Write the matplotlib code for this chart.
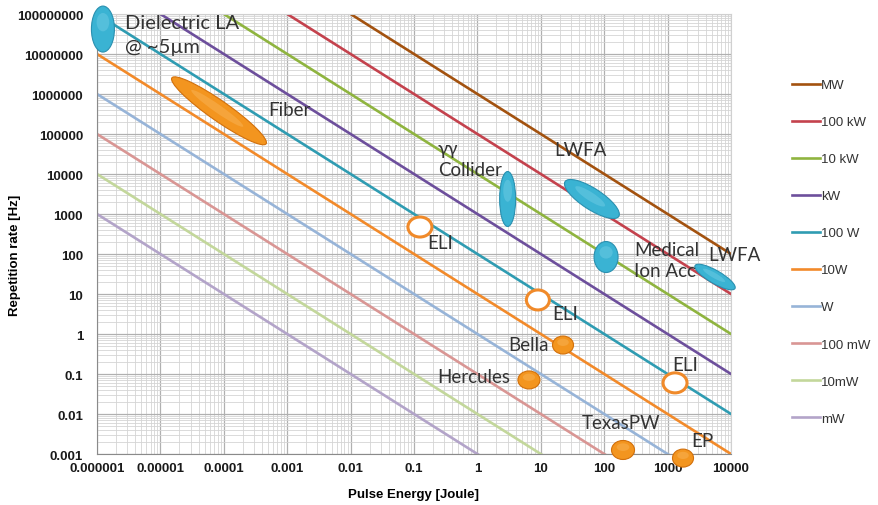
import numpy as np
import matplotlib.pyplot as plt
from matplotlib.patches import Ellipse
from matplotlib.transforms import ScaledTranslation
from matplotlib.ticker import LogLocator, NullFormatter

# constant power lines
power_labels = ['MW', '100 kW', '10 kW', 'kW', '100 W', '10W', 'W', '100 mW', '10mW', 'mW']
power_watts = [1e6, 1e5, 1e4, 1e3, 1e2, 1e1, 1e0, 1e-1, 1e-2, 1e-3]
power_colors = ['#a3520f', '#c4424d', '#8fb43f', '#6d4f9c', '#2f9cb2',
                '#f28a2a', '#97b4d8', '#d99694', '#c3d79b', '#b3a4c9']

# machines / facilities
blob_names = ['Dielectric LA\n@ ~5\u00b5m', 'Fiber', '\u03b3\u03b3\nCollider', 'LWFA',
              'Medical\nIon Acc', 'LWFA', 'ELI', 'ELI', 'ELI',
              'Bella', 'Hercules', 'TexasPW', 'EP']
blob_energy = [1.24e-6, 8.4e-5, 3.0, 64, 107, 5600, 0.124, 9.0, 1310,
               22.4, 6.5, 198, 1750]
blob_rate = [4.2e7, 3.8e5, 2370, 2370, 84, 26.6, 473, 7.1, 0.06,
             0.53, 0.071, 0.00126, 0.00079]
blob_kind = ['blue', 'orange', 'blue', 'blue', 'blue', 'blue', 'open', 'open', 'open',
             'orange', 'orange', 'orange', 'orange']

x_ticks = [1e-6, 1e-5, 1e-4, 1e-3, 1e-2, 1e-1, 1, 10, 100, 1000, 10000]
x_tick_labels = ['0.000001', '0.00001', '0.0001', '0.001', '0.01', '0.1',
                 '1', '10', '100', '1000', '10000']
y_ticks = [1e-3, 1e-2, 1e-1, 1, 10, 100, 1e3, 1e4, 1e5, 1e6, 1e7, 1e8]
y_tick_labels = ['0.001', '0.01', '0.1', '1', '10', '100', '1000', '10000',
                 '100000', '1000000', '10000000', '100000000']

# shape of each blob on screen: width px, height px, angle deg
shapes = [(23, 46, 0), (115, 20, -35), (16, 55, 0), (64, 21, -33), (24, 31, 0),
          (46, 13, -30), (24, 20, 0), (23, 20, 0), (24, 20, 0),
          (21, 18, 0), (22, 18, 0), (23, 19, 0), (21, 18, 0)]
# label offsets in px and alignment
label_pos = [(22, -5, 'left'), (49, 1, 'left'), (-70, 40, 'left'), (-38, 50, 'left'),
             (28, -3, 'left'), (-7, 23, 'left'), (7, -15, 'left'), (14, -14, 'left'),
             (-3, 18, 'left'), (-14, 1, 'right'), (-19, 3, 'right'), (-2, 27, 'center'),
             (8, 18, 'left')]

fig = plt.figure(figsize=(8.79, 5.06), dpi=100)
ax = fig.add_axes([97 / 879, 1 - 455 / 506, 634 / 879, 440 / 506])
ax.set_xscale('log')
ax.set_yscale('log')
ax.set_xlim(1e-6, 1e4)
ax.set_ylim(1e-3, 1e8)

# minor ticks at 2..9 in every decade
for axis in (ax.xaxis, ax.yaxis):
    axis.set_minor_locator(LogLocator(base=10, subs=np.arange(2, 10), numticks=200))
    axis.set_minor_formatter(NullFormatter())

ax.grid(True, which='major', color='#b0b0b0', lw=0.9)
ax.grid(True, which='minor', color='#d4d4d4', lw=0.6)
ax.set_axisbelow(True)
for s in ['top', 'right']:
    ax.spines[s].set_color('#d0d0d0')
for s in ['left', 'bottom']:
    ax.spines[s].set_color('#8a8a8a')

e_ends = np.array([1e-6, 1e4])
for p, lab, c in zip(power_watts, power_labels, power_colors):
    ax.plot(e_ends, p / e_ends, color=c, lw=1.9, label=lab)

ax.set_xticks(x_ticks)
ax.set_xticklabels(x_tick_labels)
ax.set_yticks(y_ticks)
ax.set_yticklabels(y_tick_labels)
ax.tick_params(which='both', length=0)
ax.tick_params(axis='y', pad=10)
ax.tick_params(axis='x', pad=6)
for t in ax.get_xticklabels() + ax.get_yticklabels():
    t.set_fontfamily('Liberation Sans')
    t.set_fontweight('bold')
    t.set_fontsize(9.5)
    t.set_color('#1a1a1a')

ax.set_xlabel('Pulse Energy [Joule]', fontfamily='Liberation Sans', fontweight='bold',
              fontsize=9.5, labelpad=10)
fig.text(15 / 879, 1 - 255 / 506, 'Repetition rate [Hz]', rotation=90,
         ha='center', va='center', fontfamily='Liberation Sans', fontweight='bold',
         fontsize=9.5)

styles = {
    'blue': dict(fc='#3ab3d3', ec='#2a90b0', lw=0.8),
    'orange': dict(fc='#f3951f', ec='#d2700b', lw=0.8),
    'open': dict(fc='white', ec='#f08a2a', lw=2.2),
}
highlight = {'blue': '#6fcbe4', 'orange': '#f8b457'}

for name, e, r, kind, (w, h, ang), (dx, dy, ha) in zip(
        blob_names, blob_energy, blob_rate, blob_kind, shapes, label_pos):
    tr = fig.dpi_scale_trans + ScaledTranslation(e, r, ax.transData)
    ax.add_patch(Ellipse((0, 0), w / 100, h / 100, angle=ang, transform=tr,
                         clip_on=False, zorder=5, **styles[kind]))
    if kind in highlight:
        a = np.deg2rad(ang)
        ox, oy = 0.15 * h * np.sin(a) / 100, 0.15 * h * np.cos(a) / 100
        ax.add_patch(Ellipse((ox, oy), w * 0.55 / 100, h * 0.4 / 100, angle=ang,
                             transform=tr, clip_on=False, zorder=6,
                             fc=highlight[kind], ec='none', alpha=0.5))
    fs = 14.5 if name.startswith('Dielectric') else 13.5
    ax.annotate(name, (e, r), xytext=(dx, dy), textcoords='offset pixels',
                ha=ha, va='center', fontsize=fs, fontfamily='Lato',
                color='#333333', linespacing=1.5 if fs > 14 else 1.3,
                zorder=7, annotation_clip=False)

leg = ax.legend(loc='upper left', bbox_to_anchor=(792 / 879, 1 - 80 / 506),
                bbox_transform=fig.transFigure, frameon=False, handlelength=2.1,
                handletextpad=0.1, labelspacing=1.88, borderpad=0, borderaxespad=0,
                prop={'family': 'Liberation Sans', 'size': 9.5})
for t in leg.get_texts():
    t.set_color('#333333')

fig.savefig('out.png', dpi=100)
